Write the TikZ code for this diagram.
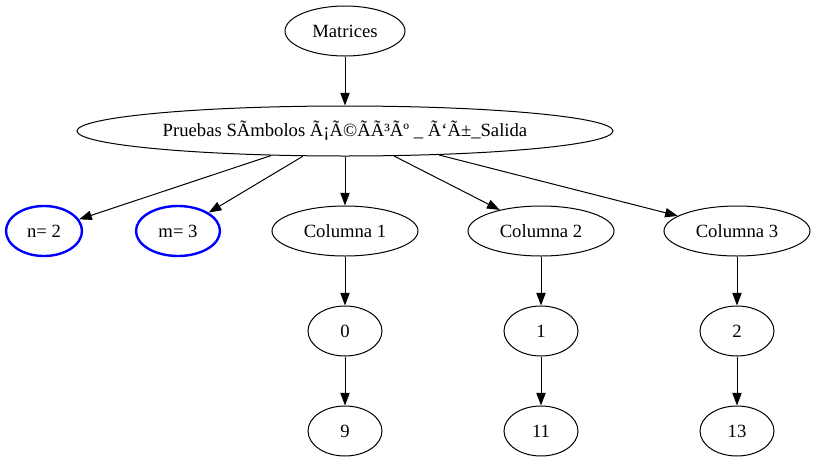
\documentclass[tikz,border=0pt]{standalone}
\usepackage{fontspec}
\setmainfont{Liberation Serif}
\usetikzlibrary{shapes.geometric,arrows.meta}

\begin{document}
\begin{tikzpicture}[x=0.75pt,y=-0.75pt,
  gnode/.style={draw,ellipse,inner sep=0pt,minimum height=37.5pt,line width=0.75pt,font=\fontsize{14pt}{16pt}\selectfont},
  vnode/.style={gnode,draw=blue,line width=1.8pt},
  edge/.style={-{Triangle[length=9.5pt,width=7pt]},line width=0.75pt}]
 \useasboundingbox (0,0) rectangle (815,461);
 \node[gnode,minimum width=90pt] (mat) at (345,31) {Matrices};
 \node[gnode,minimum width=402pt] (prb) at (345,131) {Pruebas SÃ­mbolos Ã¡Ã©Ã­Ã³Ãº \_ Ã‘Ã±\_Salida};
 \node[vnode,minimum width=57pt] (nv) at (44,231) {n= 2};
 \node[vnode,minimum width=63pt] (mv) at (178,231) {m= 3};
 \draw[edge] (mat) -- (prb);
 \draw[edge] (prb) -- (nv);
 \draw[edge] (prb) -- (mv);
 \foreach \k/\cx/\va/\vb in {1/345/0/9,2/541/1/11,3/737/2/13}{
  \node[gnode,minimum width=109.5pt] (col\k) at (\cx,231) {Columna \k};
  \node[gnode,minimum width=55.5pt] (a\k) at (\cx,331) {\va};
  \node[gnode,minimum width=55.5pt] (b\k) at (\cx,431) {\vb};
  \draw[edge] (prb) -- (col\k);
  \draw[edge] (col\k) -- (a\k);
  \draw[edge] (a\k) -- (b\k);
 }
\end{tikzpicture}
\end{document}
